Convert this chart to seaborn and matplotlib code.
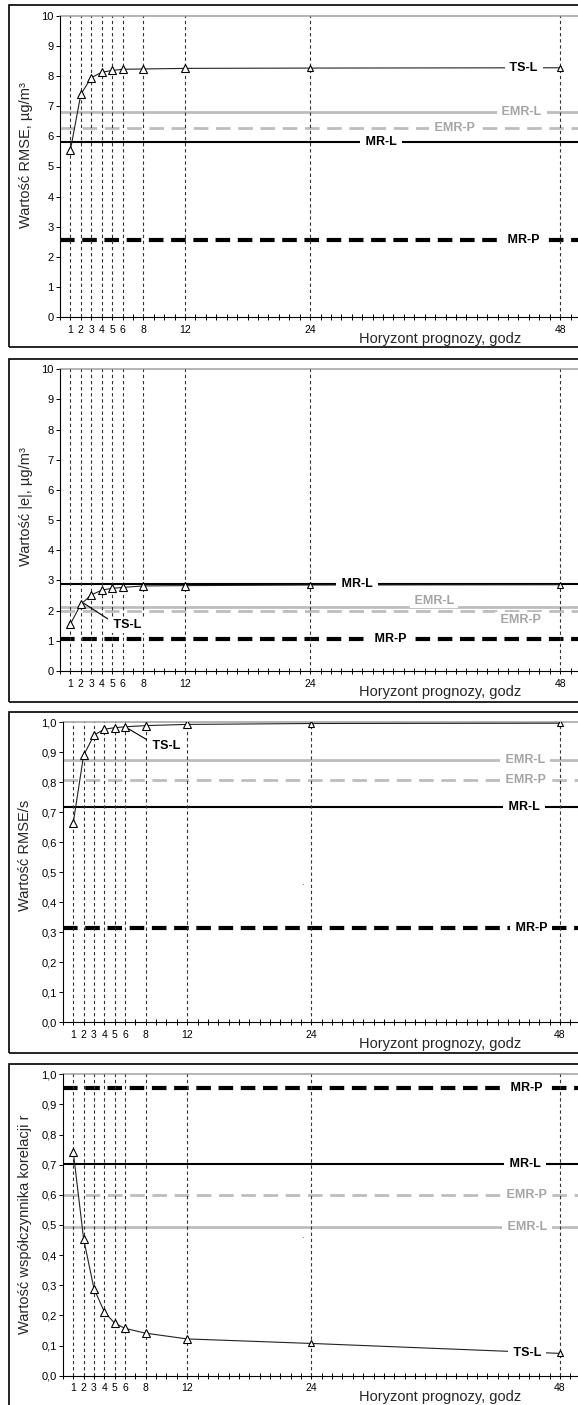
import matplotlib
matplotlib.use("Agg")
import matplotlib.pyplot as plt
import seaborn as sns
from matplotlib.patches import Rectangle
from matplotlib.ticker import FuncFormatter

# forecast horizons (hours) shown on every x axis
horizon = [1, 2, 3, 4, 5, 6, 8, 12, 24, 48]
ref_names = ["MR-P", "MR-L", "EMR-P", "EMR-L"]

# panel 1: RMSE
rmse_ts = [5.55, 7.40, 7.95, 8.13, 8.19, 8.23, 8.24, 8.26, 8.27, 8.28]
rmse_ref = [2.55, 5.80, 6.28, 6.82]
# panel 2: |e|
e_ts = [1.56, 2.21, 2.52, 2.68, 2.74, 2.77, 2.82, 2.83, 2.85, 2.86]
e_ref = [1.05, 2.89, 1.98, 2.11]
# panel 3: RMSE/s
ratio_ts = [0.665, 0.890, 0.957, 0.977, 0.982, 0.985, 0.989, 0.993, 0.996, 0.997]
ratio_ref = [0.313, 0.718, 0.807, 0.873]
# panel 4: correlation r
r_ts = [0.743, 0.454, 0.289, 0.212, 0.174, 0.157, 0.141, 0.122, 0.107, 0.074]
r_ref = [0.954, 0.703, 0.599, 0.494]

W, H = 578, 1405
sns.set_theme(style="white")
plt.rcParams["font.family"] = ["Liberation Sans", "DejaVu Sans"]
plt.rcParams["lines.scale_dashes"] = False

GRAY = "#bdbdbd"
line_style = {
    "MR-P": dict(color="black", lw=3.0, ls=(0, (10.5, 5.5))),
    "MR-L": dict(color="black", lw=1.5, ls="-"),
    "EMR-P": dict(color=GRAY, lw=2.0, ls=(0, (10.5, 5.5))),
    "EMR-L": dict(color=GRAY, lw=2.0, ls="-"),
}
text_color = {"MR-P": "black", "MR-L": "black", "EMR-P": "#a5a5a5",
              "EMR-L": "#a5a5a5", "TS-L": "black"}

panels = [
    dict(ts=rmse_ts, ref=rmse_ref, ymax=10, step=1, dec=False,
         ylabel="Wartość RMSE, µg/m³", px=(60, 16, 317), ylab=(26, 0.538),
         labels={"TS-L": (44.5, None), "EMR-L": (44.3, None), "EMR-P": (37.9, None),
                 "MR-L": (30.8, None), "MR-P": (44.5, None)},
         lead=None),
    dict(ts=e_ts, ref=e_ref, ymax=10, step=1, dec=False,
         ylabel="Wartość |e|, µg/m³", px=(60, 369.3, 671), ylab=(26, 0.545),
         labels={"MR-L": (28.5, None), "EMR-L": (35.9, 2.31), "EMR-P": (44.2, 1.69),
                 "MR-P": (31.7, None)},
         lead=((6.46, 1.52), (2.3, 2.24))),
    dict(ts=ratio_ts, ref=ratio_ref, ymax=1.0, step=0.1, dec=True,
         ylabel="Wartość RMSE/s", px=(62.9, 722.3, 1022.3), ylab=(25, 0.555),
         labels={"EMR-L": (44.65, None), "EMR-P": (44.7, None),
                 "MR-L": (44.5, None), "MR-P": (45.2, None)},
         lead=((10.0, 0.922), (6.35, 0.978))),
    dict(ts=r_ts, ref=r_ref, ymax=1.0, step=0.1, dec=True,
         ylabel="Wartość współczynnika korelacji r", px=(62.9, 1074.3, 1375.7),
         ylab=(25, 0.503),
         labels={"MR-P": (44.8, None), "MR-L": (44.6, None), "EMR-P": (44.8, None),
                 "EMR-L": (44.8, None), "TS-L": (44.85, None)},
         lead=None),
]
boxes = [(5, 347.3), (359, 701.5), (711.5, 1053), (1064, 1412)]

fig = plt.figure(figsize=(W / 100, H / 100), dpi=100)

for (btop, bbot) in boxes:
    fig.patches.append(Rectangle((9 / W, 1 - bbot / H), 1.0, (bbot - btop) / H,
                                 transform=fig.transFigure, fill=False,
                                 ec="black", lw=1.2, zorder=0))

bbox = dict(boxstyle="square,pad=0.15", fc="white", ec="none")

for p in panels:
    left, top, bottom = p["px"]
    xmax = 50
    unit = 10.42 if left == 60 else 10.355
    ax = fig.add_axes([left / W, 1 - bottom / H, xmax * unit / W, (bottom - top) / H])
    ymax = p["ymax"]

    # reference model lines
    for name, val in zip(ref_names, p["ref"]):
        st = line_style[name]
        ax.axhline(val, color=st["color"], lw=st["lw"], ls=st["ls"], zorder=2)
    ax.axhline(ymax, color="#a8a8a8", lw=1.2, zorder=2, clip_on=False)

    # horizon markers
    for h in horizon:
        ax.axvline(h, color="#333333", lw=0.8, ls=(0, (2.4, 2.0)), zorder=3)

    sns.lineplot(x=horizon, y=p["ts"], ax=ax, color="#222222", lw=0.8, zorder=4)
    # far horizons are drawn with smaller triangles in the original
    ms = [5.5 if h <= 12 else 4.0 for h in horizon]
    for h, v, m in zip(horizon, p["ts"], ms):
        ax.plot(h, v, marker="^", ms=m, mfc="white", mec="black", mew=0.8, zorder=4.5)

    # line labels
    for name, (lx, ly) in p["labels"].items():
        if ly is None:
            ly = p["ts"][-1] if name == "TS-L" else p["ref"][ref_names.index(name)]
        pad = 0.05 if (name == "EMR-L" and p["lead"] is not None and not p["dec"]) else 0.15
        ax.text(lx, ly, " " + name + " ", ha="center", va="center", fontsize=9,
                fontweight="bold", color=text_color[name], zorder=5,
                bbox=dict(boxstyle=f"square,pad={pad}", fc="white", ec="none"))
    if p["lead"] is not None:
        (tx, ty), (px_, py_) = p["lead"]
        ax.annotate(" TS-L ", xy=(px_, py_), xytext=(tx, ty), ha="center", va="center",
                    fontsize=9, fontweight="bold", color="black", zorder=5, bbox=bbox,
                    arrowprops=dict(arrowstyle="-", color="black", lw=0.8,
                                    shrinkA=0, shrinkB=0, relpos=(0.08, 0.75)))

    if p["dec"]:
        ax.text(23.2, 0.45, "`", fontsize=6, ha="center", va="center", color="#333333")

    ax.set_xlim(0, xmax)
    ax.set_ylim(0, ymax)
    ax.set_xticks(range(0, 51))
    ax.set_xticklabels([str(t) if t in horizon else "" for t in range(0, 51)])
    nt = int(round(ymax / p["step"]))
    ax.set_yticks([i * p["step"] for i in range(nt + 1)])
    if p["dec"]:
        ax.yaxis.set_major_formatter(FuncFormatter(lambda v, _: f"{v:.1f}".replace(".", ",")))
    else:
        ax.yaxis.set_major_formatter(FuncFormatter(lambda v, _: f"{v:.0f}"))
    ax.tick_params(axis="x", direction="inout", length=4, width=0.7, pad=3.5,
                   labelsize=7.5, colors="black", bottom=True)
    ax.tick_params(axis="y", direction="out", length=3, width=0.7, pad=1.5,
                   labelsize=8, colors="black", left=True)

    for s in ["top", "right"]:
        ax.spines[s].set_visible(False)
    for s in ["left", "bottom"]:
        ax.spines[s].set_color("black")
        ax.spines[s].set_linewidth(0.8)
        ax.spines[s].set_zorder(6)

    ax.set_ylabel(p["ylabel"], fontsize=10.5, va="center")
    ax.yaxis.set_label_coords((p["ylab"][0] - left) / (xmax * unit), p["ylab"][1])
    ax.set_xlabel("Horyzont prognozy, godz", fontsize=10.5, va="top")
    ax.xaxis.set_label_coords((440 - left) / (xmax * unit), -14.5 / (bottom - top))

fig.savefig("out.png", dpi=100)
